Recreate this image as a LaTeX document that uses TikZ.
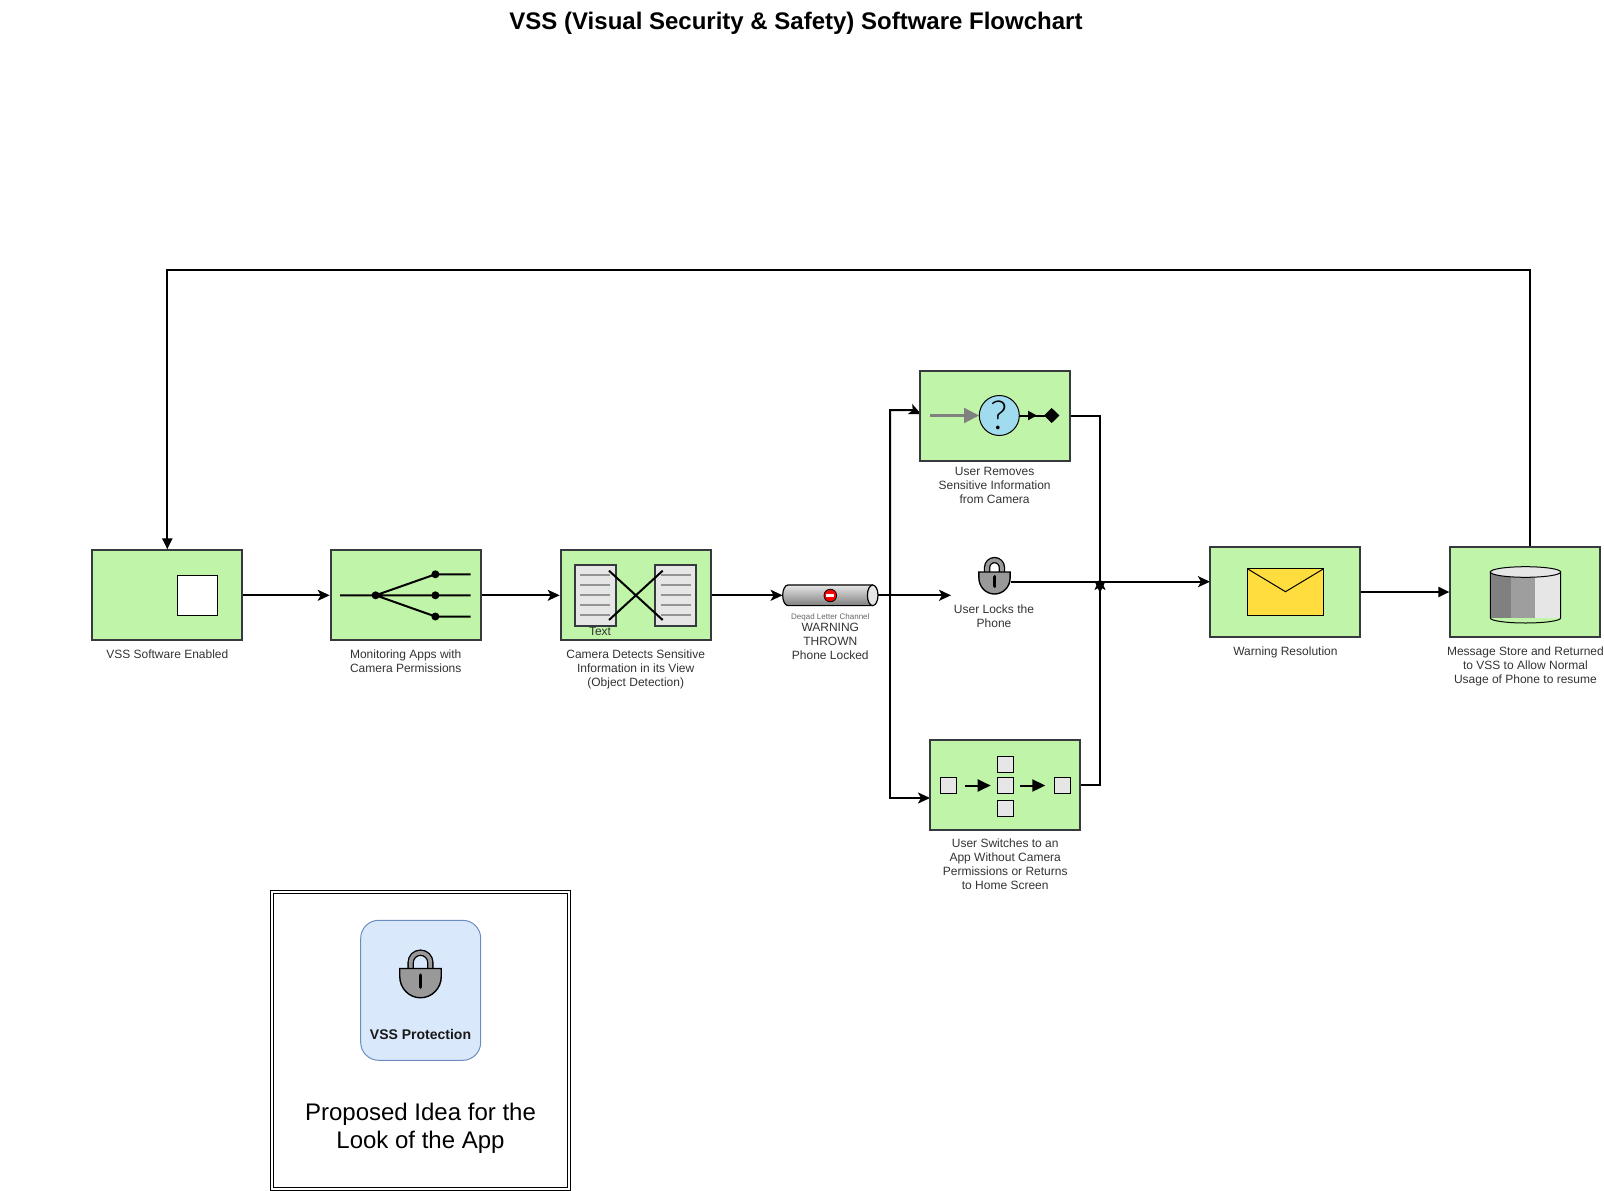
\documentclass[tikz,border=0pt]{standalone}
\usepackage{fontspec}
\setmainfont{Liberation Sans}
\newfontfamily\thinfont{Lato Light}
\usetikzlibrary{arrows.meta,positioning,backgrounds}
\definecolor{boxgreen}{HTML}{C0F5A9}
\definecolor{boxedge}{HTML}{36393D}
\definecolor{capgray}{HTML}{333333}
\definecolor{iconfill}{HTML}{E6E6E6}
\tikzset{
  stepbox/.style={draw=boxedge,line width=2pt,fill=boxgreen,minimum width=150pt,minimum height=90pt,inner sep=0pt},
  capt/.style={font=\fontsize{12}{14}\selectfont,text=capgray,align=center,inner sep=0pt},
  link/.style={line width=2pt,-{Stealth[length=12pt,width=11pt,inset=3pt]}},
  linkb/.style={line width=2pt,-{Triangle[length=11pt,width=10pt]}},
  plain/.style={line width=2pt},
  tiny/.style={draw=black,line width=.9pt,fill=iconfill,minimum size=16pt,inner sep=0pt},
  padlock/.pic={
    \draw[line width=6.4pt] (-7.4,0) -- (-7.4,-4.5) arc[start angle=180,end angle=360,radius=7.4] -- (7.4,0);
    \draw[line width=3.8pt,color=black!40] (-7.4,0) -- (-7.4,-4.5) arc[start angle=180,end angle=360,radius=7.4] -- (7.4,0);
    \draw[line width=1.4pt,fill=black!40] (-15.6,0) -- (15.6,0) -- (15.6,6) arc[start angle=0,end angle=180,x radius=15.6,y radius=16] -- cycle;
    \draw[line width=3.8pt,line cap=round] (0,5) -- (0,14);
  }
}
\begin{document}
\begin{tikzpicture}[x=1pt,y=-1pt]
  \useasboundingbox (0,0) rectangle (1604,1191);
  \node (title) at (796,23) {\fontsize{24}{28}\selectfont\bfseries VSS (Visual Security \& Safety) Software Flowchart};

  \node[stepbox] (enabled) at (167.3,595.3) {};
  \node[stepbox] (monitor) at (405.7,595.3) {};
  \node[stepbox] (detect) at (635.7,595.3) {};
  \node[stepbox] (remove) at (994.6,415.6) {};
  \node[stepbox] (switch) at (1005.2,785.3) {};
  \node[stepbox] (warning) at (1285.4,592) {};
  \node[stepbox] (store) at (1525.4,592) {};
  \node[minimum width=32pt,minimum height=24pt,inner sep=0pt] (locknode) at (994.5,581.7) {};
  \node[minimum width=95pt,minimum height=21pt,inner sep=0pt] (channel) at (830.3,595.3) {};
  \coordinate (lockin) at (951,595.3);
  \coordinate (split) at (890,595.3);
  \coordinate (joinup) at (1100,593);
  \coordinate (joindown) at (1100,578);
  \coordinate (switchin) at (930,798);
  \coordinate (storeout) at (1530.3,547);
  \coordinate (warnin) at (1210,581.7);

  \begin{scope}[on background layer]
    \draw[linkb] (storeout) -- (1530.3,270) -| (enabled.north);
    \draw[link] (enabled) -- (monitor);
    \draw[link] (monitor) -- (detect);
    \draw[link] (detect) -- (channel);
    \draw[link] (channel) -- (lockin);
    \draw[link] (split) |- (912,410) -- (921,414);
    \draw[link] (split) |- (switchin);
    \draw[link] (remove.east) -| (joinup);
    \draw[link] (switch.east) -| (joindown);
    \draw[link] (locknode) -- (warnin);
    \draw[linkb] (warning) -- (store);
  \end{scope}

  \node[draw=black,line width=1pt,fill=white,minimum size=40pt,inner sep=0pt] (square) at (197.5,595.3) {};

  \fill (375.6,595.3) circle [radius=4pt] (435.4,574.3) circle [radius=4pt] (435.4,595.3) circle [radius=4pt] (435.4,616.5) circle [radius=4pt];
  \draw[plain] (340,595.3) -- (470.7,595.3) (375.6,595.3) -- (435.4,574.3) -- (470.7,574.3) (375.6,595.3) -- (435.4,616.5) -- (470.7,616.5);

  \foreach \docx in {595.3,675.5} {
    \draw[line width=1.8pt,color=boxedge,fill=iconfill] (\docx-20.5,565) rectangle (\docx+20.5,626);
    \foreach \rowy in {575.3,585.3,595.3,605.3,615.3}
      \draw[line width=1.7pt,color=black!42] (\docx-15,\rowy) -- (\docx+15,\rowy);
  }
  \draw[plain] (609,570.7) -- (662.7,620) (662.7,570.7) -- (609,620);
  \node[capt] (textlabel) at (600,631) {Text};

  \draw[line width=1.2pt,top color=black!10,bottom color=black!50] (873,585) -- (788,585) arc[start angle=270,end angle=90,x radius=5.3,y radius=10.3] -- (873,605.6);
  \draw[line width=1.2pt,fill=iconfill] (872.7,595.3) ellipse [x radius=5.3,y radius=10.3];
  \draw[line width=.8pt,fill=red] (830.3,595.5) circle [radius=6.3pt];
  \fill[white] (826.3,594.2) rectangle (834.3,596.8);
  \node[capt,font=\fontsize{8}{9}\selectfont,text=black!60] (channelcap) at (830.3,617) {Deqad Letter Channel};
  \node[capt,anchor=north] (warncap) at (830.3,623) {WARNING\\THROWN\\Phone Locked};

  \pic at (994.5,572) {padlock};
  \draw[line width=2.2pt,color=black!50,-{Triangle[length=15pt,width=15pt]}] (930,415.5) -- (979,415.5);
  \draw[line width=1pt,fill={rgb,255:red,160;green,219;blue,240}] (999.3,415.5) circle [radius=20pt];
  \node[font=\fontsize{40}{40}\selectfont\thinfont,inner sep=0pt] (question) at (999.3,415.5) {?};
  \draw[plain] (1019.3,415.5) -- (1045,415.5);
  \draw[plain,-{Triangle[length=9pt,width=9pt]}] (1020,415.5) -- (1037,415.5);
  \fill (1044,415.5) -- (1051.7,408) -- (1059.4,415.5) -- (1051.7,423) -- cycle;

  \node[tiny] (sqa) at (948.5,785.5) {};
  \node[tiny] (sqb) at (1005.5,764.5) {};
  \node[tiny] (sqc) at (1005.5,785.5) {};
  \node[tiny] (sqd) at (1005.5,808.5) {};
  \node[tiny] (sqe) at (1062.5,785.5) {};
  \draw[plain,-{Triangle[length=13pt,width=12pt]}] (965.3,785.5) -- (990.7,785.5);
  \draw[plain,-{Triangle[length=13pt,width=12pt]}] (1020.3,785.5) -- (1045.3,785.5);

  \draw[line width=1pt,fill={rgb,255:red,255;green,221;blue,63}] (1247.3,568.7) rectangle (1323.7,615.3);
  \draw[line width=1pt] (1247.3,568.7) -- (1285.5,591.7) -- (1323.7,568.7);

  \fill[color=black!50] (1490.3,572) rectangle (1510.7,618);
  \fill[color=black!38] (1510.7,572) rectangle (1535.3,618);
  \fill[color=iconfill] (1535.3,572) rectangle (1560.7,618);
  \draw[line width=1pt,fill=none] (1490.3,572) -- (1490.3,618) arc[start angle=180,end angle=0,x radius=35.2,y radius=5] -- (1560.7,572);
  \draw[line width=1pt,fill=iconfill] (1525.5,572) ellipse [x radius=35.2,y radius=5.3];

  \node[capt,below=8pt of enabled] (enabledcap) {VSS Software Enabled};
  \node[capt,below=8pt of monitor] (monitorcap) {Monitoring Apps with\\Camera Permissions};
  \node[capt,below=8pt of detect] (detectcap) {Camera Detects Sensitive\\Information in its View\\(Object Detection)};
  \node[capt,below=5pt of remove] (removecap) {User Removes\\Sensitive Information\\from Camera};
  \node[capt,anchor=north] (lockcap) at (994,604.5) {User Locks the\\Phone};
  \node[capt,below=7pt of switch] (switchcap) {User Switches to an\\App Without Camera\\Permissions or Returns\\to Home Screen};
  \node[capt,below=8.5pt of warning] (warningcap) {Warning Resolution};
  \node[capt,below=8.5pt of store] (storecap) {Message Store and Returned\\to VSS to Allow Normal\\Usage of Phone to resume};

  \node[draw=black,line width=1.2pt,double,double distance=2pt,minimum size=296.5pt,inner sep=0pt] (frame) at (420.5,1040.5) {};
  \node[draw={rgb,255:red,108;green,142;blue,191},line width=1pt,fill={rgb,255:red,218;green,232;blue,252},rounded corners=18pt,minimum width=120pt,minimum height=140pt,inner sep=0pt] (appicon) at (420.7,990.3) {};
  \pic[scale=1.33] at (420.5,968.5) {padlock};
  \node[font=\fontsize{14}{16}\selectfont\bfseries,text=black!90,inner sep=0pt] (appname) at (420.5,1034) {VSS Protection};
  \node[font=\fontsize{24}{28}\selectfont,align=center,inner sep=0pt] (proposed) at (420.5,1128) {Proposed Idea for the\\Look of the App};
\end{tikzpicture}
\end{document}
